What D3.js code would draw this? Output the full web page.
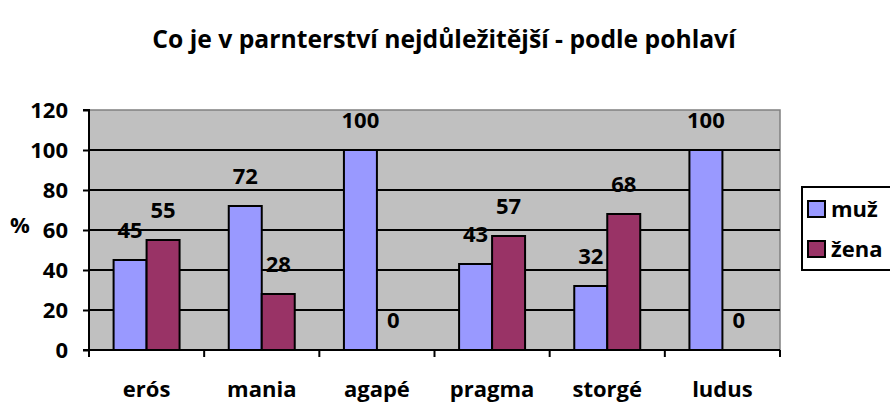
<!DOCTYPE html>
<html><head><meta charset="utf-8">
<script src="https://cdn.jsdelivr.net/npm/d3@7"></script>
<style>body{margin:0;background:#fff}svg{display:block}</style>
</head><body><svg id="c" width="890" height="402"></svg>
<script>
const categories = ["erós","mania","agapé","pragma","storgé","ludus"];
const seriesNames = ["muž","žena"];
const muz = [45,72,100,43,32,100];
const zena = [55,28,0,57,68,0];
const yTicks = [0,20,40,60,80,100,120];
const colors = ["#9999FF","#993366"];

const FONT = "'Open Sans', sans-serif";
const FS = 22;
const svg = d3.select("#c");
const L=89,R=780,T=110,B=350;
const x = d3.scaleBand().domain(categories).range([L,R]).paddingInner(0).paddingOuter(0);
const y = d3.scaleLinear().domain([0,120]).range([B,T]);
const bw = x.bandwidth()*33/115.2, off = (x.bandwidth()-2*bw)/2;

function txt(sel, size){ return sel.attr("font-family",FONT).attr("font-weight","bold").attr("font-size",size).attr("fill","#000"); }

txt(svg.append("text").attr("x",444).attr("y",48).attr("text-anchor","middle"),24.7).text("Co je v parnterství nejdůležitější - podle pohlaví");

svg.append("rect").attr("x",L).attr("y",T).attr("width",R-L).attr("height",B-T).attr("fill","#C0C0C0").attr("stroke","#808080").attr("stroke-width",1.5);

svg.append("g").selectAll("line").data(yTicks.filter(d=>d>0 && d<120)).join("line")
 .attr("x1",L).attr("x2",R).attr("y1",d=>y(d)).attr("y2",d=>y(d)).attr("stroke","#000").attr("stroke-width",2);

const data = [muz,zena];
data.forEach((vals,si)=>{
  const g=svg.append("g");
  g.selectAll("rect").data(vals).join("rect")
   .attr("x",(d,i)=>x(categories[i])+off+si*bw).attr("y",d=>y(d)).attr("width",bw).attr("height",d=>B-y(d))
   .attr("fill",colors[si]).attr("stroke","#000").attr("stroke-width",2);
  txt(g.selectAll("text").data(vals).join("text")
   .attr("x",(d,i)=>x(categories[i])+off+si*bw+bw/2).attr("y",d=>y(d)-22).attr("text-anchor","middle"),FS).text(d=>d);
});

const ya = svg.append("g").attr("transform",`translate(${L},0)`).call(d3.axisLeft(y).tickValues(yTicks).tickSize(6).tickPadding(15));
ya.select(".domain").attr("stroke","#000").attr("stroke-width",2).attr("d",`M-6,${T}H0V${B}H-6`);
ya.selectAll(".tick line").attr("stroke","#000").attr("stroke-width",2);
txt(ya.selectAll("text"),FS).attr("dy","0.36em");

const xa = svg.append("g").attr("transform",`translate(0,${B})`);
xa.append("line").attr("x1",L).attr("x2",R).attr("y1",0).attr("y2",0).attr("stroke","#000").attr("stroke-width",2);
xa.selectAll("line.t").data(d3.range(categories.length+1)).join("line").attr("class","t")
 .attr("x1",i=>L+i*x.bandwidth()).attr("x2",i=>L+i*x.bandwidth()).attr("y1",0).attr("y2",7).attr("stroke","#000").attr("stroke-width",2);
txt(xa.selectAll("text").data(categories).join("text").attr("x",d=>x(d)+x.bandwidth()/2).attr("y",47).attr("text-anchor","middle"),FS).text(d=>d);

txt(svg.append("text").attr("x",20).attr("y",233).attr("text-anchor","middle"),FS).text("%");

const lg = svg.append("g");
lg.append("rect").attr("x",802).attr("y",187).attr("width",90).attr("height",83).attr("fill","#fff").attr("stroke","#000").attr("stroke-width",2);
seriesNames.forEach((n,i)=>{
  const base = 217 + i*40;
  lg.append("rect").attr("x",808).attr("y",base-16).attr("width",17).attr("height",16).attr("fill",colors[i]).attr("stroke","#000").attr("stroke-width",2);
  txt(lg.append("text").attr("x",831).attr("y",base),FS).text(n);
});
</script></body></html>
